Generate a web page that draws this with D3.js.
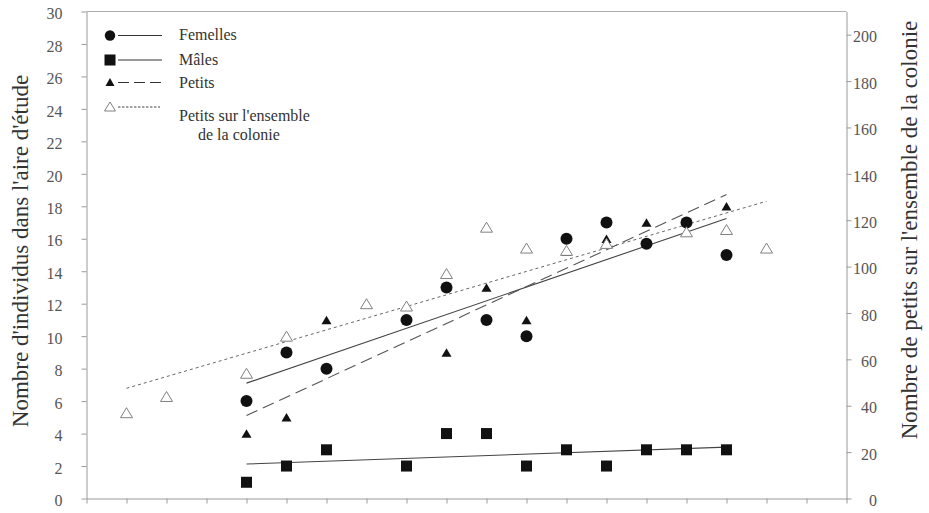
<!DOCTYPE html>
<html>
<head>
<meta charset="utf-8">
<script src="https://cdn.jsdelivr.net/npm/d3@7/dist/d3.min.js"></script>
<style>
  html, body { margin: 0; padding: 0; background: #fff; }
  svg { display: block; }
  svg text { font-family: "Liberation Serif", "Times New Roman", serif; }
</style>
</head>
<body>
<script>
// Sampling periods (category positions along the bottom axis)
const periods = [1, 2, 3, 4, 5, 6, 7, 8, 9, 10, 11, 12, 13, 14, 15, 16, 17];

// Counts in the study area (left axis); null = not sampled
const femelles = [null, null, null, 6, 9, 8, null, 11, 13, 11, 10, 16, 17, 15.7, 17, 15, null];
const males    = [null, null, null, 1, 2, 3, null, 2, 4, 4, 2, 3, 2, 3, 3, 3, null];
const petits   = [null, null, null, 4, 5, 11, null, null, 9, 13, 11, 15.2, 16, 17, null, 18, null];

// Young over the whole colony (right axis)
const colonie  = [37, 44, null, 54, 70, null, 84, 83, 97, 117, 108, 107, 110, null, 115, 116, 108];

// Axis ticks
const leftTicks  = [0, 2, 4, 6, 8, 10, 12, 14, 16, 18, 20, 22, 24, 26, 28, 30];
const rightTicks = [0, 20, 40, 60, 80, 100, 120, 140, 160, 180, 200];
const bottomTicks = [0, 1, 2, 3, 4, 5, 6, 7, 8, 9, 10, 11, 12, 13, 14, 15, 16, 17, 18, 19];

const W = 929, H = 513;

const svg = d3.select("body").append("svg")
  .attr("width", W).attr("height", H);

svg.append("rect").attr("width", W).attr("height", H).attr("fill", "#fff");

const x  = d3.scaleLinear().domain([0, 19]).range([86.5, 846.5]);
const yL = d3.scaleLinear().domain([0, 30]).range([498.5, 11.5]);
const yR = d3.scaleLinear().domain([0, 210]).range([498.5, 11.5]);

const axisColor = "#9a9a9a";
const tickText = "#555";

// frame top edge
svg.append("line")
  .attr("x1", x(0)).attr("x2", x(19))
  .attr("y1", yL(30)).attr("y2", yL(30))
  .attr("stroke", "#b0b0b0").attr("stroke-width", 1);

// bottom axis (tick marks only)
const gB = svg.append("g").attr("transform", `translate(0,${yL(0)})`)
  .call(d3.axisBottom(x).tickValues(bottomTicks).tickFormat("").tickSize(5).tickSizeOuter(0));

// left axis
const gL = svg.append("g").attr("transform", `translate(${x(0)},0)`)
  .call(d3.axisLeft(yL).tickValues(leftTicks).tickSize(5).tickSizeOuter(0).tickPadding(19));

// right axis
const gR = svg.append("g").attr("transform", `translate(${x(19)},0)`)
  .call(d3.axisRight(yR).tickValues(rightTicks).tickSize(5).tickSizeOuter(0));

[gB, gL, gR].forEach(g => {
  g.attr("font-family", null);
  g.select(".domain").attr("stroke", axisColor);
  g.selectAll(".tick line").attr("stroke", axisColor);
  g.selectAll(".tick text")
    .attr("fill", tickText)
    .attr("font-size", 16)
    .attr("dy", "0.45em");
});
gR.selectAll(".tick text").attr("text-anchor", "end").attr("x", 30.5);

// axis titles
svg.append("text")
  .attr("transform", `translate(28,251) rotate(-90)`)
  .attr("text-anchor", "middle")
  .attr("font-size", 23).attr("fill", "#333")
  .text("Nombre d'individus dans l'aire d'étude");

svg.append("text")
  .attr("transform", `translate(917,230) rotate(-90)`)
  .attr("text-anchor", "middle")
  .attr("font-size", 23).attr("fill", "#333")
  .text("Nombre de petits sur l'ensemble de la colonie");

// pair periods with values, dropping gaps
const pts = vals => periods.map((p, i) => ({ p, v: vals[i] })).filter(d => d.v != null);

// least-squares trend over the sampled periods
function trend(vals) {
  const d = pts(vals);
  const mx = d3.mean(d, e => e.p), my = d3.mean(d, e => e.v);
  const sxy = d3.sum(d, e => (e.p - mx) * (e.v - my));
  const sxx = d3.sum(d, e => (e.p - mx) ** 2);
  const b = sxy / sxx, a = my - b * mx;
  const p0 = d3.min(d, e => e.p), p1 = d3.max(d, e => e.p);
  return [{ p: p0, v: a + b * p0 }, { p: p1, v: a + b * p1 }];
}

const lineL = d3.line().x(d => x(d.p)).y(d => yL(d.v));
const lineR = d3.line().x(d => x(d.p)).y(d => yR(d.v));

const trends = svg.append("g").attr("fill", "none");
trends.append("path").attr("d", lineR(trend(colonie)))
  .attr("stroke", "#666").attr("stroke-width", 1).attr("stroke-dasharray", "3,3");
trends.append("path").attr("d", lineL(trend(femelles)))
  .attr("stroke", "#444").attr("stroke-width", 1.1);
trends.append("path").attr("d", lineL(trend(males)))
  .attr("stroke", "#444").attr("stroke-width", 1.1);
trends.append("path").attr("d", lineL(trend(petits)))
  .attr("stroke", "#555").attr("stroke-width", 1.1).attr("stroke-dasharray", "12,6");

// marker shapes
const triPath = (w, h) => `M0,${-h / 2}L${w / 2},${h / 2}L${-w / 2},${h / 2}Z`;
const ink = "#111";

const marks = svg.append("g");

marks.selectAll("circle.fem").data(pts(femelles)).join("circle")
  .attr("class", "fem")
  .attr("cx", d => x(d.p)).attr("cy", d => yL(d.v)).attr("r", 6)
  .attr("fill", ink);

marks.selectAll("rect.mal").data(pts(males)).join("rect")
  .attr("class", "mal")
  .attr("x", d => x(d.p) - 5.5).attr("y", d => yL(d.v) - 5.5)
  .attr("width", 11).attr("height", 11)
  .attr("fill", ink);

marks.selectAll("path.pet").data(pts(petits)).join("path")
  .attr("class", "pet")
  .attr("transform", d => `translate(${x(d.p)},${yL(d.v)})`)
  .attr("d", triPath(10, 8.5))
  .attr("fill", ink);

marks.selectAll("path.col").data(pts(colonie)).join("path")
  .attr("class", "col")
  .attr("transform", d => `translate(${x(d.p)},${yR(d.v)})`)
  .attr("d", triPath(12, 10))
  .attr("fill", "#fff").attr("stroke", "#808080").attr("stroke-width", 1);

// legend
const lg = svg.append("g").attr("font-size", 16).attr("fill", "#333");
const mx0 = 110, lx0 = 118, lx1 = 162, tx = 179;

lg.append("circle").attr("cx", mx0).attr("cy", 35.5).attr("r", 5.2).attr("fill", ink);
lg.append("line").attr("x1", lx0).attr("x2", lx1).attr("y1", 35.5).attr("y2", 35.5)
  .attr("stroke", "#333").attr("stroke-width", 1.1);
lg.append("text").attr("x", tx).attr("y", 40).text("Femelles");

lg.append("rect").attr("x", mx0 - 5.5).attr("y", 60 - 5.5).attr("width", 11).attr("height", 11).attr("fill", ink);
lg.append("line").attr("x1", lx0).attr("x2", lx1).attr("y1", 60).attr("y2", 60)
  .attr("stroke", "#333").attr("stroke-width", 1.1);
lg.append("text").attr("x", tx).attr("y", 65).text("Mâles");

lg.append("path").attr("transform", `translate(${mx0},82)`).attr("d", triPath(9, 8)).attr("fill", ink);
lg.append("line").attr("x1", lx0).attr("x2", lx1).attr("y1", 82.5).attr("y2", 82.5)
  .attr("stroke", "#333").attr("stroke-width", 1.1).attr("stroke-dasharray", "11,5");
lg.append("text").attr("x", tx).attr("y", 88).text("Petits");

lg.append("path").attr("transform", `translate(${mx0},106.5)`).attr("d", triPath(11, 9))
  .attr("fill", "#fff").attr("stroke", "#808080").attr("stroke-width", 1);
lg.append("line").attr("x1", lx0).attr("x2", 160).attr("y1", 107).attr("y2", 107)
  .attr("stroke", "#444").attr("stroke-width", 1).attr("stroke-dasharray", "2.5,1.5");
lg.append("text").attr("x", tx).attr("y", 121).text("Petits sur l'ensemble");
lg.append("text").attr("x", 198).attr("y", 140).text("de la colonie");
</script>
</body>
</html>
